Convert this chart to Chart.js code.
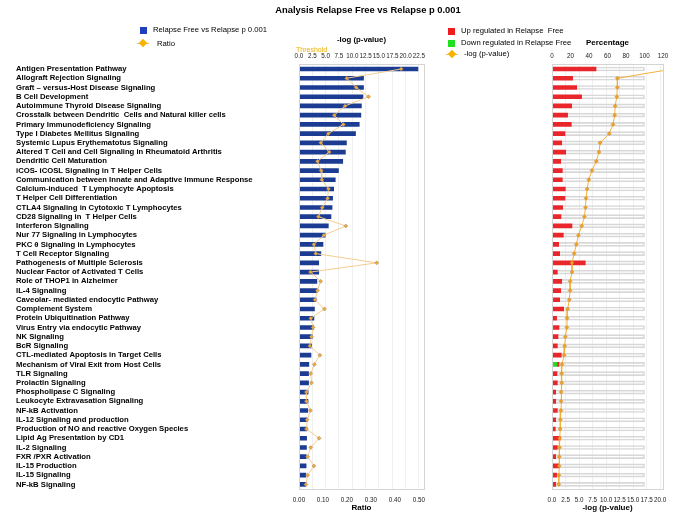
<!DOCTYPE html>
<html><head><meta charset="utf-8">
<script src="https://cdn.jsdelivr.net/npm/chart.js@4.4.1/dist/chart.umd.min.js"></script>
<style>
html,body{margin:0;padding:0;background:#fff;}
#wrap{position:relative;width:685px;height:513px;overflow:hidden;font-family:"Liberation Sans",Arial,sans-serif;}
.t{position:absolute;white-space:nowrap;color:#000;line-height:1;}
.sq{position:absolute;}
canvas{position:absolute;top:0;}
</style></head><body>
<div id="wrap">
<canvas id="left" width="440" height="513" style="left:0;width:440px;height:513px"></canvas>
<canvas id="right" width="150" height="513" style="left:535px;width:150px;height:513px"></canvas>

<div class="t" style="left:368px;top:5px;font-size:9.4px;font-weight:bold;transform:translateX(-50%)">Analysis Relapse Free vs Relapse p 0.001</div>

<div class="sq" style="left:140px;top:27px;width:7px;height:7px;background:#1f3fbf"></div>
<div class="t" style="left:153px;top:26px;font-size:7.7px">Relapse Free vs Relapse p 0.001</div>
<div class="sq" style="left:137px;top:43px;width:12px;height:1px;background:#f3b449"></div>
<div class="sq" style="left:140px;top:40px;width:6px;height:6px;background:#f6b400;transform:rotate(45deg)"></div>
<div class="t" style="left:157px;top:40px;font-size:7.7px">Ratio</div>
<div class="t" style="left:296px;top:46px;font-size:7px;color:#f0b000">Threshold</div>

<div class="sq" style="left:448px;top:28px;width:7px;height:7px;background:#ee1c1c"></div>
<div class="t" style="left:461px;top:27px;font-size:7.7px">Up regulated in Relapse&nbsp; Free</div>
<div class="sq" style="left:448px;top:40px;width:7px;height:7px;background:#1ee01e"></div>
<div class="t" style="left:461px;top:39px;font-size:7.7px">Down regulated in Relapse Free</div>
<div class="sq" style="left:446px;top:54px;width:12px;height:1px;background:#f3b449"></div>
<div class="sq" style="left:449px;top:51px;width:6px;height:6px;background:#f6b400;transform:rotate(45deg)"></div>
<div class="t" style="left:464px;top:50px;font-size:7.7px">-log (p-value)</div>
</div>
<script>
const categories = [
 "Antigen Presentation Pathway","Allograft Rejection Signaling","Graft \u2013 versus-Host Disease Signaling","B Cell Development",
 "Autoimmune Thyroid Disease Signaling","Crosstalk between Dendritic  Cells and Natural killer cells","Primary Immunodeficiency Signaling",
 "Type I Diabetes Mellitus Signaling","Systemic Lupus Erythematotus Signaling","Altered T Cell and Cell Signaling in Rheumatoid Arthritis",
 "Dendritic Cell Maturation","iCOS- iCOSL Signaling in T Helper Cells","Communication between Innate and Adaptive Immune Response",
 "Calcium-induced  T Lymphocyte Apoptosis","T Helper Cell Differentiation","CTLA4 Signaling in Cytotoxic T Lymphocytes",
 "CD28 Signaling in  T Helper Cells","Interferon Signaling","Nur 77 Signaling in Lymphocytes","PKC \u03b8 Signaling in Lymphocytes",
 "T Cell Receptor Signaling","Pathogenesis of Multiple Sclerosis","Nuclear Factor of Activated T Cells","Role of THOP1 in Alzheimer",
 "IL-4 Signaling","Caveolar- mediated endocytic Pathway","Complement System","Protein Ubiquitination Pathway",
 "Virus Entry via endocytic Pathway","NK Signaling","BcR Signaling","CTL-mediated Apoptosis in Target Cells",
 "Mechanism of Viral Exit from Host Cells","TLR Signaling","Prolactin Signaling","Phospholipase C Signaling",
 "Leukocyte Extravasation Signaling","NF-kB Activation","IL-12 Signaling and production",
 "Production of NO and reactive Oxygen Species","Lipid Ag Presentation by CD1","IL-2 Signaling","FXR /PXR Activation",
 "IL-15 Production","IL-15 Signaling","NF-kB Signaling"
];
const negLogP = [22.3,12.1,12.1,12.0,11.7,11.6,11.3,10.6,8.9,8.7,
 8.2,7.4,6.8,6.5,6.3,6.2,6.0,5.5,4.9,4.5,
 4.1,3.7,3.7,3.35,3.35,3.2,2.9,2.8,2.75,2.47,
 2.35,2.25,1.85,1.8,1.8,1.7,1.68,1.65,1.56,1.5,
 1.43,1.4,1.35,1.33,1.28,1.25];
const ratio = [0.426,0.199,0.238,0.29,0.192,0.147,0.185,0.122,0.091,0.126,
 0.077,0.092,0.095,0.123,0.119,0.097,0.081,0.195,0.104,0.062,
 0.070,0.324,0.048,0.090,0.077,0.067,0.106,0.049,0.059,0.052,
 0.045,0.087,0.064,0.049,0.052,0.031,0.031,0.048,0.034,0.031,
 0.084,0.049,0.036,0.062,0.036,0.029];
const pctUp = [47.6,22.3,26.7,32,21.3,16.9,20.9,14,10.5,14.8,
 9.4,11.2,11.2,14.4,14,11.5,9.7,21.6,12.3,7.2,
 8.3,36,5.8,10.5,9.4,7.3,12.6,5,6.6,6.5,
 5.8,10.1,2.2,5.4,5.8,4,4,4.8,4,3.6,
 9,5.8,4,8.3,5,4];
const pctDown = [0,0,0,0,0,0,0,0,0,0,
 0,0,0,0,0,0,0,0,0,0,
 0,0,0,0,0,1,0,0,1,0,
 0,0,5.4,0,0,0,0,1,0,0,
 0,0,0,0,0,0];
const pctRest = categories.map((c,i)=>100-pctUp[i]-pctDown[i]);

const FAM = "'Liberation Sans', Arial, sans-serif";
const frame = {id:'frame', afterDraw(c){const a=c.chartArea,x=c.ctx;x.save();x.strokeStyle='#d4d4d4';x.lineWidth=1;x.strokeRect(Math.round(a.left)+0.5,Math.round(a.top)+0.5,Math.round(a.right-a.left),Math.round(a.bottom-a.top));x.restore();}};

new Chart(document.getElementById('left'), {
  type:'bar',
  data:{labels:categories, datasets:[
    {type:'line', label:'Ratio', data:ratio, indexAxis:'y', xAxisID:'x2', yAxisID:'y', order:0,
     borderColor:'#f4cd8e', borderWidth:1, pointStyle:'rectRot', pointRadius:2, pointBackgroundColor:'#f2a93b', pointBorderColor:'#9a8a70', pointBorderWidth:0.5, tension:0},
    {type:'bar', label:'Relapse Free vs Relapse p 0.001', data:negLogP, xAxisID:'x', yAxisID:'y', order:1,
     backgroundColor:'#1b3c92', barThickness:4}
  ]},
  options:{
    responsive:false, animation:false, indexAxis:'y',
    layout:{padding:{left:16,right:16,top:0,bottom:0}},
    plugins:{legend:{display:false}, tooltip:{enabled:false}},
    scales:{
      y:{type:'category', offset:true, grid:{display:false, drawTicks:false}, border:{display:false},
         ticks:{crossAlign:'far', autoSkip:false, padding:0, color:'#000', font:{family:FAM,size:7.7,weight:'bold'}},
         afterFit(s){s.width=283;}},
      x:{position:'top', min:0, max:23.44,
         ticks:{stepSize:2.5, includeBounds:false, autoSkip:false, maxRotation:0, padding:4, color:'#222', font:{family:FAM,size:6.3}, callback:v=>Number(v).toFixed(1)},
         grid:{color:'#efefef', drawTicks:false}, border:{display:false},
         title:{display:true, text:'-log (p-value)', color:'#000', font:{family:FAM,size:7.8,weight:'bold'}, padding:{top:35.2,bottom:0}},
         afterFit(s){s.height=64.4;}},
      x2:{position:'bottom', min:0, max:0.521,
         ticks:{stepSize:0.1, includeBounds:false, autoSkip:false, maxRotation:0, padding:7, color:'#222', font:{family:FAM,size:6.3}, callback:v=>Number(v).toFixed(2)},
         grid:{display:false, drawTicks:false}, border:{display:false},
         title:{display:true, text:'Ratio', color:'#000', font:{family:FAM,size:8,weight:'bold'}, padding:{top:0,bottom:0.2}},
         afterFit(s){s.height=24;}}
    }
  },
  plugins:[frame]
});

new Chart(document.getElementById('right'), {
  type:'bar',
  data:{labels:categories, datasets:[
    {type:'line', label:'-log (p-value)', data:negLogP, indexAxis:'y', xAxisID:'x2', yAxisID:'y', order:0,
     borderColor:'#f2b23a', borderWidth:1, pointStyle:'rectRot', pointRadius:2, pointBackgroundColor:'#f2a020', pointBorderColor:'#c88a2a', pointBorderWidth:0.5, tension:0},
    {label:'Down regulated in Relapse Free', data:pctDown, xAxisID:'x', yAxisID:'y', order:1, backgroundColor:'#22dd22', barThickness:4},
    {label:'Up regulated in Relapse Free', data:pctUp, xAxisID:'x', yAxisID:'y', order:1, backgroundColor:'#e8262b', barThickness:4},
    {label:'No overlap', data:pctRest, xAxisID:'x', yAxisID:'y', order:1, backgroundColor:'rgba(255,255,255,0)', borderColor:'#d8d8d8', borderWidth:1, barThickness:4}
  ]},
  options:{
    responsive:false, animation:false, indexAxis:'y',
    layout:{padding:{left:17,right:22,top:0,bottom:0}},
    plugins:{legend:{display:false}, tooltip:{enabled:false}},
    scales:{
      y:{type:'category', display:false, offset:true, stacked:true},
      x:{position:'top', min:0, max:120, stacked:true,
         ticks:{stepSize:20, autoSkip:false, maxRotation:0, padding:4, color:'#222', font:{family:FAM,size:6.3}},
         grid:{display:false, drawTicks:false}, border:{display:false},
         title:{display:true, text:'Percentage', color:'#000', font:{family:FAM,size:8,weight:'bold'}, padding:{top:38.2,bottom:0}},
         afterFit(s){s.height=64.4;}},
      x2:{position:'bottom', min:0, max:20.55,
         ticks:{stepSize:2.5, includeBounds:false, autoSkip:false, maxRotation:0, padding:7, color:'#222', font:{family:FAM,size:6.3}, callback:v=>Number(v).toFixed(1)},
         grid:{color:'#efefef', drawTicks:false}, border:{display:false},
         title:{display:true, text:'-log (p-value)', color:'#000', font:{family:FAM,size:8,weight:'bold'}, padding:{top:0,bottom:0.2}},
         afterFit(s){s.height=24;}}
    }
  },
  plugins:[frame]
});
</script>
</body></html>
